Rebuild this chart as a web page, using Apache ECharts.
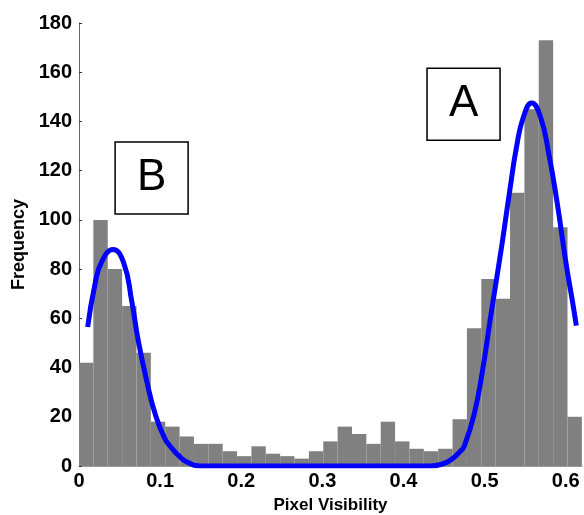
<!DOCTYPE html>
<html>
<head>
<meta charset="utf-8">
<script src="https://cdn.jsdelivr.net/npm/echarts@6/dist/echarts.min.js"></script>
<style>
    html, body { margin: 0; padding: 0; background: #fff; }
    #hist-chart { width: 584px; height: 515px; }
</style>
</head>
<body>
<div id="hist-chart"></div>
<script>
// histogram of pixel visibility with the two-peak fit
const binStart = 0;
const binWidth = 0.01771;
const binCounts = [
    42, 100, 80, 65, 46, 18, 16, 12, 9, 9,
    6, 4, 8, 5, 4, 3, 6, 10, 16, 13,
    9, 18, 10, 7, 6, 7, 19, 56, 76, 68,
    111, 145, 173, 97, 20
];

// fitted curve
const curveX = [
    0.0107, 0.0198, 0.028, 0.042, 0.055, 0.065, 0.073, 0.0835, 0.094, 0.106,
    0.115, 0.122, 0.133, 0.15, 0.2, 0.3, 0.4, 0.433, 0.446, 0.458,
    0.47, 0.4747, 0.487, 0.4975, 0.508, 0.5207, 0.531, 0.5395, 0.548, 0.558,
    0.5687, 0.579, 0.5896, 0.6, 0.6084, 0.613
];
const curveY = [
    56.5, 74, 83, 88, 82.6, 67, 51, 34.5, 21, 11,
    7, 4.5, 1.6, 0, 0, 0, 0, 0, 0.6, 2.4,
    6, 8, 21, 39, 62, 88.6, 112, 130, 142, 147.5,
    142, 127, 106.5, 83, 66.6, 57
];

const xTicks = { min: 0, max: 0.62, interval: 0.1 };
const yTicks = { min: 0, max: 180, interval: 20 };

function drawHistChart() {
    var dom = document.getElementById('hist-chart');
    var myChart = echarts.init(dom, null, { renderer: 'canvas' });

    const histData = binCounts.map((c, i) => [
        binStart + i * binWidth,
        binStart + (i + 1) * binWidth,
        c
    ]);
    const curveData = curveX.map((x, i) => [x, curveY[i]]);

    const font = 'Liberation Sans, Arial, sans-serif';

    var option = {
        animation: false,
        grid: { left: 79, right: 2, top: 23, bottom: 49, outerBoundsMode: 'none', containLabel: false },
        xAxis: {
            type: 'value',
            min: xTicks.min,
            max: xTicks.max,
            interval: xTicks.interval,
            name: 'Pixel Visibility',
            nameLocation: 'middle',
            nameGap: 31,
            nameTextStyle: { color: '#000', fontFamily: font, fontWeight: 'bold', fontSize: 17 },
            axisLine: { show: true, lineStyle: { color: '#999', width: 1 } },
            axisTick: { show: true, inside: true, length: 3, lineStyle: { color: '#333' } },
            axisLabel: {
                color: '#000', fontFamily: font, fontWeight: 'bold', fontSize: 20,
                margin: 5, showMaxLabel: false
            },
            splitLine: { show: false }
        },
        yAxis: {
            type: 'value',
            min: yTicks.min,
            max: yTicks.max,
            interval: yTicks.interval,
            name: 'Frequency',
            nameLocation: 'middle',
            nameGap: 50,
            nameTextStyle: { color: '#000', fontFamily: font, fontWeight: 'bold', fontSize: 18 },
            axisLine: { show: true, lineStyle: { color: '#666', width: 1 } },
            axisTick: { show: true, inside: true, length: 3, lineStyle: { color: '#333' } },
            axisLabel: { color: '#000', fontFamily: font, fontWeight: 'bold', fontSize: 20, margin: 7 },
            splitLine: { show: false }
        },
        series: [
            {
                name: 'counts',
                type: 'custom',
                data: histData,
                encode: { x: [0, 1], y: 2 },
                renderItem: function (params, api) {
                    var p0 = api.coord([api.value(0), 0]);
                    var p1 = api.coord([api.value(1), api.value(2)]);
                    return {
                        type: 'rect',
                        shape: { x: p0[0], y: p1[1], width: p1[0] - p0[0], height: p0[1] - p1[1] },
                        style: { fill: '#808080' }
                    };
                },
                z: 1
            },
            {
                name: 'fit',
                type: 'line',
                data: curveData,
                showSymbol: false,
                smooth: 0.5,
                lineStyle: { color: '#0000ff', width: 5 },
                z: 3,
                markPoint: {
                    symbol: 'rect',
                    symbolSize: [73, 72],
                    itemStyle: { color: '#fff', borderColor: '#000', borderWidth: 1.5 },
                    label: {
                        show: true, position: 'inside', color: '#000',
                        fontFamily: font, fontSize: 44, fontWeight: 'normal'
                    },
                    data: [
                        { name: 'A', coord: [0.474, 147], label: { formatter: 'A' } },
                        { name: 'B', coord: [0.0895, 117], label: { formatter: 'B' } }
                    ]
                }
            }
        ]
    };

    if (option && typeof option === 'object') {
        myChart.setOption(option);
    }

    window.addEventListener('resize', myChart.resize);
}

drawHistChart();
</script>
</body>
</html>
